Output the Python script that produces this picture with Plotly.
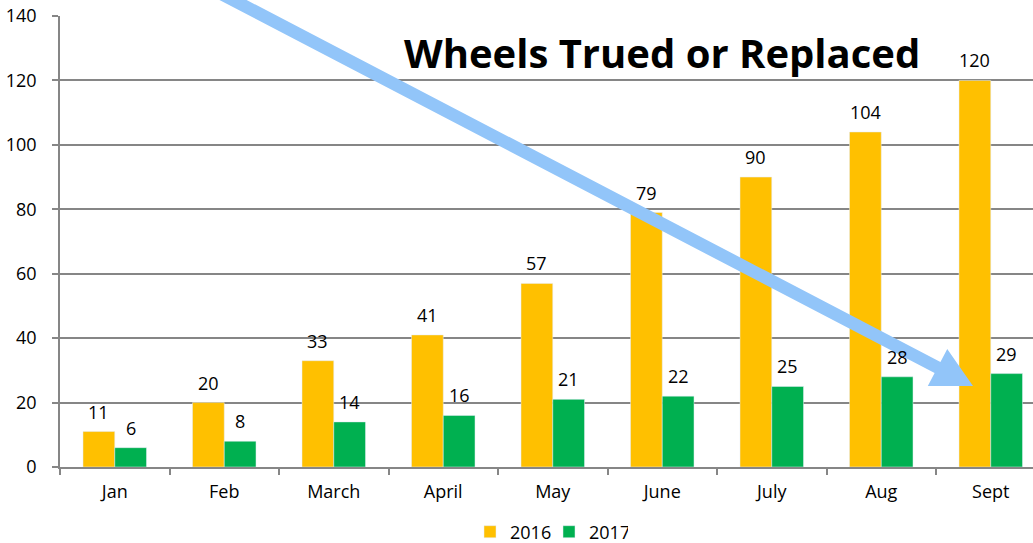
import numpy as np
import plotly.graph_objects as go

months = ["Jan", "Feb", "March", "April", "May", "June", "July", "Aug", "Sept"]
y2016 = [11, 20, 33, 41, 57, 79, 90, 104, 120]
y2017 = [6, 8, 14, 16, 21, 22, 25, 28, 29]
series_names = ["2016", "2017"]
title_text = "Wheels Trued or Replaced"

W, H = 1033, 543
L, R, T, B = 60, 0, 16, 76
PW, PH = W - L - R, H - T - B
BARGAP = 0.42

def px2paper(px, py):
    return (px - L) / PW, (H - B - py) / PH

FONT = "Open Sans"
fig = go.Figure()
fig.add_trace(go.Bar(x=months, y=y2016, name=series_names[0], marker_color="#FFC000"))
fig.add_trace(go.Bar(x=months, y=y2017, name=series_names[1], marker_color="#00B050"))

# value labels above each bar
half = (1 - BARGAP) / 4
for vals, off in ((y2016, -half), (y2017, half)):
    for i, v in enumerate(vals):
        fig.add_annotation(x=i + off, y=v, xref="x", yref="y", text=str(v), showarrow=False,
                           xanchor="center", yanchor="middle", yshift=20,
                           font=dict(family=FONT, size=18, color="#000000"))

# decorative arrow (pixel geometry -> paper)
S = np.array([233.0, 0.0]); Tp = np.array([973.0, 386.0])
d = (Tp - S) / np.linalg.norm(Tp - S)
n = np.array([-d[1], d[0]])
S0 = S - 12 * d
Bm = Tp - 40 * d
pts = [S0 + 6.3 * n, Bm + 6.3 * n, Bm + 21 * n, Tp, Bm - 21 * n, Bm - 6.3 * n, S0 - 6.3 * n]
path = "M " + " L ".join("%.5f,%.5f" % px2paper(*p) for p in pts) + " Z"
fig.add_shape(type="path", path=path, xref="paper", yref="paper",
              fillcolor="#92C5F9", line=dict(width=0), layer="above")

tx, ty = px2paper(662, 52)
fig.add_annotation(text="<b>" + title_text + "</b>", x=tx, y=ty, xref="paper", yref="paper",
                   xanchor="center", yanchor="middle", showarrow=False,
                   font=dict(family=FONT, size=40, color="#000000"))

gray = "#868686"
fig.update_layout(
    width=W, height=H, margin=dict(l=L, r=R, t=T, b=B, autoexpand=False),
    paper_bgcolor="white", plot_bgcolor="white",
    barmode="group", bargap=BARGAP, bargroupgap=0,
    font=dict(family=FONT, size=18, color="#000000"),
    showlegend=True,
    legend=dict(orientation="h", x=px2paper(549, 0)[0], xanchor="center",
                y=px2paper(0, 532)[1], yanchor="middle", font=dict(size=18),
                itemwidth=30, traceorder="normal", entrywidth=34, entrywidthmode="pixels"),
    xaxis=dict(range=[-0.5, -0.5 + PW / 109.5], showline=True, linecolor=gray, linewidth=1.5,
               ticks="outside", tickson="boundaries", ticklen=6, tickcolor=gray, tickwidth=1.5,
               showgrid=False, zeroline=False, ticklabelstandoff=8, automargin=False,
               tickfont=dict(size=18)),
    yaxis=dict(range=[0, 140], dtick=20, showline=True, linecolor=gray, linewidth=1.5,
               ticks="outside", ticklen=6, tickcolor=gray, tickwidth=1.5,
               showgrid=True, gridcolor=gray, gridwidth=1.5, zeroline=False,
               ticklabelstandoff=12, automargin=False, tickfont=dict(size=18)),
)
fig.write_html("out.html", config={"displayModeBar": False},
               post_script="document.body.style.margin='0';document.body.style.overflow='hidden';")
